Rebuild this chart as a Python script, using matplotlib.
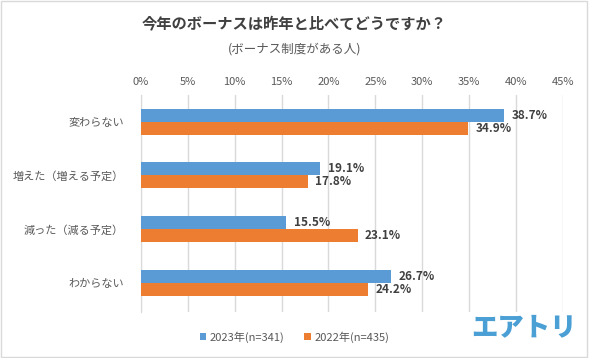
import matplotlib
matplotlib.use('Agg')
import matplotlib.pyplot as plt
from matplotlib.patches import Rectangle
import numpy as np

plt.rcParams['font.family'] = ['Noto Sans CJK JP', 'DejaVu Sans']

categories = ['変わらない', '増えた（増える予定）', '減った（減る予定）', 'わからない']
v2023 = [38.7, 19.1, 15.5, 26.7]
v2022 = [34.9, 17.8, 23.1, 24.2]
label2023 = '2023年(n=341)'
label2022 = '2022年(n=435)'
ticks = [0, 5, 10, 15, 20, 25, 30, 35, 40, 45]

blue = '#5B9BD5'
orange = '#ED7D31'
text_c = '#404040'

fig = plt.figure(figsize=(5.89, 3.58), dpi=100)
ax = fig.add_axes([0.239, 0.128, 0.717, 0.607])

y = np.arange(len(categories))
h = 0.245
b1 = ax.barh(y - h / 2, v2023, height=h, color=blue, label=label2023, zorder=3)
b2 = ax.barh(y + h / 2, v2022, height=h, color=orange, label=label2022, zorder=3)

for bars, vals in ((b1, v2023), (b2, v2022)):
    for bar, v in zip(bars, vals):
        ax.text(v + 0.8, bar.get_y() + bar.get_height() / 2, f'{v:.1f}%',
                va='center', ha='left', fontsize=8.5, fontweight='bold', color=text_c)

ax.set_xlim(0, 45)
ax.set_ylim(3.55, -0.5)
ax.set_xticks(ticks)
ax.set_xticklabels([f'{t}%' for t in ticks])
ax.xaxis.tick_top()
ax.set_yticks(y)
ax.set_yticklabels(categories)
ax.tick_params(axis='both', length=0, labelsize=8, colors='#595959')
ax.tick_params(axis='y', pad=12)
ax.tick_params(axis='x', pad=6)
ax.grid(axis='x', color='#d9d9d9', linewidth=1, zorder=0)
for s in ['top', 'right', 'bottom']:
    ax.spines[s].set_visible(False)
ax.spines['left'].set_color('#d9d9d9')

fig.text(0.5, 0.935, '今年のボーナスは昨年と比べてどうですか？', ha='center', va='center',
         fontsize=11, fontweight='bold', color=text_c)
fig.text(0.5, 0.862, '(ボーナス制度がある人)', ha='center', va='center',
         fontsize=9, color='#595959')

fig.legend(handles=[b1, b2], loc='center', bbox_to_anchor=(0.5, 0.058), ncol=2,
           frameon=False, fontsize=8, handlelength=0.6, handleheight=0.6,
           handletextpad=0.3, columnspacing=1.8, labelcolor='#595959')

fig.text(0.89, 0.088, 'エアトリ', ha='center', va='center', fontsize=19,
         fontweight='black', color='#4A9FD4')

fig.patches.append(Rectangle((0.002, 0.003), 0.995, 0.994, transform=fig.transFigure,
                             fill=False, edgecolor='#d9d9d9', linewidth=1))

fig.savefig('out.png', dpi=100)
